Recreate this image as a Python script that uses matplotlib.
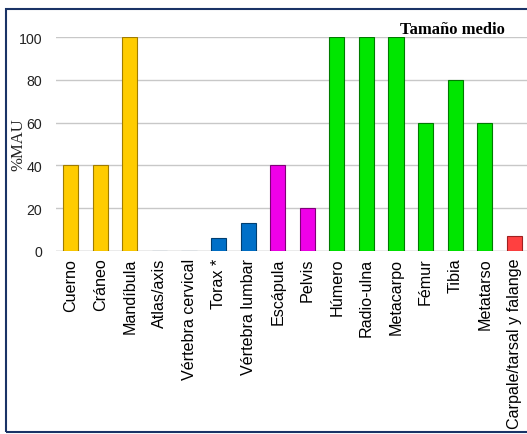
import matplotlib
matplotlib.use('Agg')
import matplotlib.pyplot as plt
from matplotlib.patches import Rectangle

# datos %MAU - tamaño medio
categorias = ['Cuerno', 'Cráneo', 'Mandíbula', 'Atlas/axis', 'Vértebra cervical',
              'Torax *', 'Vértebra lumbar', 'Escápula', 'Pelvis', 'Húmero',
              'Radio-ulna', 'Metacarpo', 'Fémur', 'Tibia', 'Metatarso',
              'Carpale/tarsal y falange']
mau = [40, 40, 100, 0, 0, 6, 13, 40, 20, 100, 100, 100, 60, 80, 60, 7]
grupos = ['craneo'] * 3 + ['axial'] * 4 + ['cintura'] * 2 + ['largo'] * 6 + ['pie']
yticks = [0, 20, 40, 60, 80, 100]

colores = {'craneo': '#FFCC00', 'axial': '#0070C8', 'cintura': '#F000E8',
           'largo': '#00E600', 'pie': '#FF4040'}
bordes = {'craneo': '#A07C00', 'axial': '#003E70', 'cintura': '#800078',
          'largo': '#007A00', 'pie': '#A02020'}

fig = plt.figure(figsize=(5.27, 4.35), dpi=100)
ax = fig.add_axes([56 / 527, 0.4214, 473 / 527, 0.4905])

x = list(range(len(categorias)))
ax.bar(x, mau, width=0.51,
       color=[colores[g] for g in grupos],
       edgecolor=[bordes[g] for g in grupos], linewidth=0.8, zorder=3)

ax.set_xlim(-0.5, 15.5)
ax.set_ylim(0, 100)
ax.set_yticks(yticks)
ax.yaxis.grid(True, color='#C8C8C8', linewidth=1, zorder=0)
ax.set_axisbelow(True)
for s in ax.spines.values():
    s.set_visible(False)
ax.set_xticks(x)
ax.set_xticklabels(categorias, rotation=90, fontsize=11.6, family='Liberation Sans')
ax.tick_params(axis='x', length=0, pad=5)
ax.tick_params(axis='y', length=0, pad=10, labelsize=10.2, labelcolor='#222222')
for t in ax.get_yticklabels():
    t.set_family('Liberation Sans')
# linea del cero
ax.axhline(0, color='#C8C8C8', linewidth=1, zorder=1)

fig.text(18 / 527, 1 - 145 / 435, '%MAU', rotation=90, ha='center', va='center',
         family='Liberation Serif', fontsize=12, color='#222222')
fig.text(452 / 527, 1 - 30 / 435, 'Tamaño medio', ha='center', va='center',
         family='Liberation Serif', fontweight='bold', fontsize=12)

# marco
fig.patches.append(Rectangle((6 / 527, 2.5 / 435), 1.1, 423 / 435,
                             transform=fig.transFigure, fill=False,
                             edgecolor='#1A3366', linewidth=1.5))

plt.savefig('out.png', dpi=100)
